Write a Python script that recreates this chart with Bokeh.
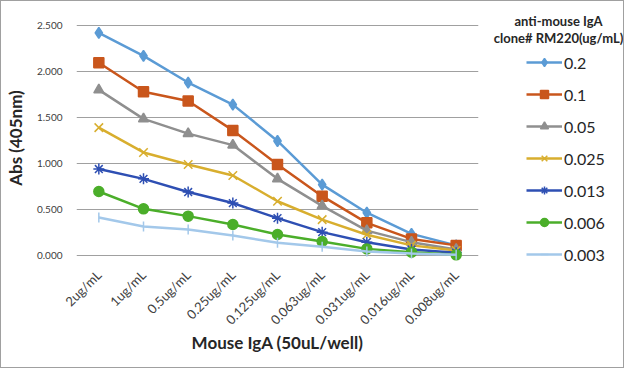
import math
from bokeh.plotting import figure
from bokeh.layouts import row
from bokeh.models import FixedTicker, PrintfTickFormatter, Legend, LegendItem, Label, Range1d, FactorRange
from bokeh.embed import file_html
from bokeh.resources import INLINE

categories = ["2ug/mL", "1ug/mL", "0.5ug/mL", "0.25ug/mL", "0.125ug/mL",
              "0.063ug/mL", "0.031ug/mL", "0.016ug/mL", "0.008ug/mL"]
y_ticks = [0.0, 0.5, 1.0, 1.5, 2.0, 2.5]

s_02 = [2.42, 2.17, 1.88, 1.64, 1.245, 0.77, 0.465, 0.235, 0.11]
s_01 = [2.095, 1.78, 1.68, 1.36, 0.99, 0.645, 0.355, 0.18, 0.11]
s_005 = [1.80, 1.485, 1.325, 1.20, 0.833, 0.54, 0.27, 0.145, 0.065]
s_0025 = [1.39, 1.12, 0.99, 0.87, 0.59, 0.39, 0.225, 0.11, 0.055]
s_0013 = [0.94, 0.833, 0.69, 0.57, 0.406, 0.254, 0.145, 0.065, 0.03]
s_0006 = [0.696, 0.507, 0.428, 0.337, 0.228, 0.152, 0.072, 0.036, 0.007]
s_0003 = [0.413, 0.315, 0.283, 0.217, 0.138, 0.094, 0.043, 0.022, 0.007]

series_names = ["0.2", "0.1", "0.05", "0.025", "0.013", "0.006", "0.003"]
series_values = [s_02, s_01, s_005, s_0025, s_0013, s_0006, s_0003]
legend_title = ["anti-mouse IgA", "clone# RM220(ug/mL)"]

colors = ["#5B9BD5", "#C9561C", "#8F8F8F", "#D8AE2E", "#2E4FB3", "#4BAE2A", "#A3C8EA"]
markers = ["diamond", "square", "triangle", "x", "asterisk", "circle", "dash"]
sizes = [11, 10, 10, 12, 11, 10, 10]
angles = [0, 0, 0, 0, 0, 0, math.pi / 2]

FONT = "Lato"

# frame extends slightly beyond 0..2.5 so that the side legend has room
p = figure(width=490, height=366, x_range=FactorRange(*categories, range_padding=0),
           y_range=Range1d(-0.1413, 2.6957), output_backend="svg", toolbar_location=None,
           min_border_left=71, min_border_right=13, min_border_top=6, min_border_bottom=99)
p.outline_line_color = None
p.background_fill_color = "white"
p.border_fill_color = "white"

p2 = figure(width=132, height=366, x_range=Range1d(10, 11), y_range=Range1d(10, 11),
            output_backend="svg", toolbar_location=None,
            min_border_left=0, min_border_right=0, min_border_top=6, min_border_bottom=99)
p2.axis.visible = False
p2.grid.visible = False
p2.outline_line_color = None
p2.background_fill_color = "white"
p2.border_fill_color = "white"

items = []
for name, vals, c, m, sz, ang in zip(series_names, series_values, colors, markers, sizes, angles):
    p.line(categories, vals, line_color=c, line_width=2.5)
    p.scatter(categories, vals, marker=m, size=sz, angle=ang, fill_color=c, line_color=c, line_width=1.5)
    # proxies for the legend (outside the visible range of p2)
    d1 = p2.line(vals, vals, line_color=c, line_width=2.5)
    d2 = p2.scatter(vals, vals, marker=m, size=sz - 1, angle=ang, fill_color=c, line_color=c, line_width=1.5)
    items.append(LegendItem(label=name, renderers=[d1, d2], index=0))

p.yaxis.ticker = FixedTicker(ticks=y_ticks)
p.yaxis.formatter = PrintfTickFormatter(format="%.3f")
p.yaxis.major_tick_line_color = None
p.yaxis.minor_tick_line_color = None
p.yaxis.axis_line_color = None
p.yaxis.major_label_text_font = FONT
p.yaxis.major_label_text_font_size = "10px"
p.yaxis.major_label_text_color = "#404040"
p.yaxis.major_label_standoff = 8
p.yaxis.axis_label = "Abs (405nm)"
p.yaxis.axis_label_text_font = FONT
p.yaxis.axis_label_text_font_size = "17px"
p.yaxis.axis_label_text_font_style = "bold"
p.yaxis.axis_label_text_color = "#262626"
p.yaxis.axis_label_standoff = 8

p.xaxis.major_tick_line_color = None
p.xaxis.minor_tick_line_color = None
p.xaxis.axis_line_color = None
p.xaxis.major_label_orientation = math.pi / 4
p.xaxis.major_label_standoff = -2
p.xaxis.major_label_text_font = FONT
p.xaxis.major_label_text_font_size = "13px"
p.xaxis.major_label_text_color = "#404040"
p.xaxis.axis_label = "Mouse IgA (50uL/well)"
p.xaxis.axis_label_text_font = FONT
p.xaxis.axis_label_text_font_size = "17px"
p.xaxis.axis_label_text_font_style = "bold"
p.xaxis.axis_label_text_color = "#262626"
p.xaxis.axis_label_standoff = -4

p.xgrid.grid_line_color = None
p.ygrid.grid_line_color = "#A0A0A0"
p.ygrid.grid_line_width = 1

legend = Legend(items=items, location=(35, 4), padding=0, margin=0,
                border_line_color=None, background_fill_alpha=0,
                glyph_width=36, glyph_height=20, label_height=20, spacing=12,
                label_standoff=2, label_text_font=FONT, label_text_font_size="16px",
                label_text_color="#262626")
p2.add_layout(legend, "center")

for txt, yy in zip(legend_title, [248, 231]):
    p2.add_layout(Label(x=67, y=yy, x_units="screen", y_units="screen", text=txt,
                        text_align="center", text_baseline="middle", text_font=FONT,
                        text_font_size="13px", text_font_style="bold", text_color="#262626"))

layout = row(p, p2, styles={"border": "1px solid #A0A0A0", "background-color": "white"})

open("out.html", "w").write(file_html(layout, INLINE))
